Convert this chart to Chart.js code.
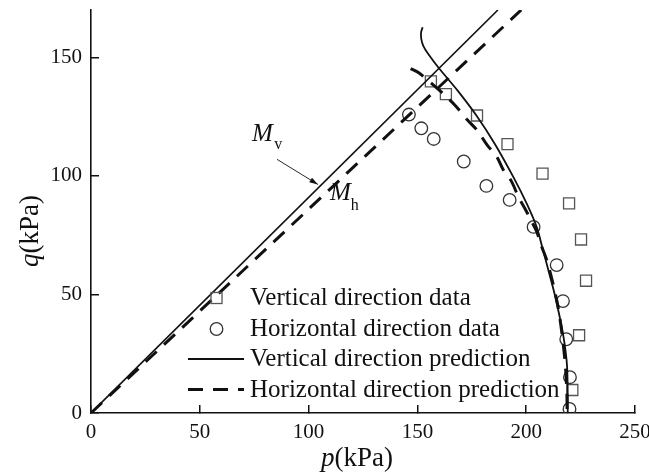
<!DOCTYPE html>
<html>
<head>
<meta charset="utf-8">
<script src="https://cdn.jsdelivr.net/npm/chart.js@4.4.1/dist/chart.umd.min.js"></script>
<style>
html, body { margin: 0; padding: 0; background: #fff; }
</style>
</head>
<body>
<canvas id="chart" width="649" height="474"></canvas>
<script>
// Stress path data, p-q plane (kPa)
var pTicks = [0, 50, 100, 150, 200, 250];
var qTicks = [0, 50, 100, 150];

var vertDataP = [156.2, 163.1, 177.4, 191.4, 207.5, 219.7, 225.2, 227.5, 224.3, 221.2];
var vertDataQ = [139.9, 134.5, 125.5, 113.4, 101.0, 88.4, 73.2, 55.8, 32.8, 9.7];

var horDataP = [146.1, 151.8, 157.5, 171.3, 181.7, 192.4, 203.4, 214.0, 216.9, 218.4, 220.1, 219.9];
var horDataQ = [125.9, 120.1, 115.6, 106.1, 95.8, 89.9, 78.5, 62.4, 47.2, 31.1, 15.1, 1.7];

// critical state lines
var mvLineP = [0, 187];
var mvLineQ = [0, 170];
var mhLineP = [0, 197.7];
var mhLineQ = [0, 170];

// yield surface predictions
var vertPredP = [152.4, 151.7, 151.8, 152.7, 155.0, 160.0, 168.5, 177.2, 185.6, 194.0, 200.2, 204.8, 207.6, 210.2, 213.0, 216.9, 218.8, 219.1];
var vertPredQ = [162.7, 160.6, 157.7, 154.9, 151.4, 145.3, 136.0, 125.4, 113.5, 99.7, 88.4, 78.5, 69.2, 60.2, 50.4, 33.5, 19.4, 0];

var horPredP = [146.9, 150.8, 156.5, 162.7, 167.6, 172.9, 177.5, 182.0, 186.4, 189.5, 193.3, 196.4, 199.4, 202.5, 204.8, 207.1, 209.4, 212.2, 214.6, 216.5, 218.0, 218.7, 218.8];
var horPredQ = [145.3, 143.4, 139.0, 134.0, 129.5, 123.7, 119.2, 113.1, 108.2, 102.5, 97.6, 91.2, 86.3, 80.8, 76.6, 70.2, 64.6, 55.0, 45.0, 33.0, 20.0, 8.0, 0];

var legendLabels = ['Vertical direction data', 'Horizontal direction data',
    'Vertical direction prediction', 'Horizontal direction prediction'];

var serif = "'Liberation Serif', 'Times New Roman', serif";

function toPoints(xs, ys) {
    return xs.map(function(x, i) { return { x: x, y: ys[i] }; });
}

/**
 * Axis titles, legend and M labels
 */
var decorPlugin = {
    id: 'decor',
    afterDraw: function(chart) {
        var ctx = chart.ctx;
        var xs = chart.scales.x;
        var ys = chart.scales.y;
        ctx.save();
        ctx.fillStyle = '#111';
        ctx.textBaseline = 'alphabetic';

        // x title: p(kPa)
        ctx.font = 'italic 27px ' + serif;
        var w1 = ctx.measureText('p').width;
        ctx.font = '27px ' + serif;
        var w2 = ctx.measureText('(kPa)').width;
        var cx = 357, by = 466;
        ctx.font = 'italic 27px ' + serif;
        ctx.fillText('p', cx - (w1 + w2) / 2, by);
        ctx.font = '27px ' + serif;
        ctx.fillText('(kPa)', cx - (w1 + w2) / 2 + w1, by);

        // y title: q(kPa)
        ctx.save();
        ctx.translate(38, 231);
        ctx.rotate(-Math.PI / 2);
        ctx.font = 'italic 27px ' + serif;
        w1 = ctx.measureText('q').width;
        ctx.fillText('q', -(w1 + w2) / 2, 0);
        ctx.font = '27px ' + serif;
        ctx.fillText('(kPa)', -(w1 + w2) / 2 + w1, 0);
        ctx.restore();

        // legend
        var ds = chart.data.datasets;
        var rows = [
            { set: ds[4], base: 305 },
            { set: ds[5], base: 336 },
            { set: ds[2], base: 366 },
            { set: ds[3], base: 396.5 }
        ];
        ctx.font = '25px ' + serif;
        rows.forEach(function(r, i) {
            var s = r.set;
            var my = r.base - 7;
            ctx.save();
            ctx.strokeStyle = s.borderColor;
            ctx.lineWidth = s.borderWidth;
            if (s.showLine) {
                ctx.setLineDash(s.borderDash || []);
                ctx.beginPath();
                ctx.moveTo(188, my);
                ctx.lineTo(244, my);
                ctx.stroke();
            } else if (s.pointStyle === 'rect') {
                var h = s.pointRadius * Math.SQRT1_2;
                ctx.strokeRect(216.5 - h, my - h, 2 * h, 2 * h);
            } else {
                ctx.beginPath();
                ctx.arc(216.5, my, s.pointRadius, 0, Math.PI * 2);
                ctx.stroke();
            }
            ctx.restore();
            ctx.fillText(legendLabels[i], 250, r.base);
        });

        // M_v / M_h labels and arrow
        function px(p) { return xs.getPixelForValue(p); }
        function py(q) { return ys.getPixelForValue(q); }
        ctx.font = 'italic 25px ' + serif;
        ctx.fillText('M', px(74), py(114.6));
        ctx.font = '16px ' + serif;
        ctx.fillText('v', px(84.2), py(111.2));
        ctx.font = 'italic 25px ' + serif;
        ctx.fillText('M', px(109.8), py(90.0));
        ctx.font = '16px ' + serif;
        ctx.fillText('h', px(119.4), py(85.8));

        var ax0 = px(85.5), ay0 = py(107), ax1 = px(104.3), ay1 = py(96.4);
        var ang = Math.atan2(ay1 - ay0, ax1 - ax0);
        ctx.strokeStyle = '#111';
        ctx.lineWidth = 0.9;
        ctx.beginPath();
        ctx.moveTo(ax0, ay0);
        ctx.lineTo(ax1, ay1);
        ctx.stroke();
        ctx.beginPath();
        ctx.moveTo(ax1, ay1);
        ctx.lineTo(ax1 - 9 * Math.cos(ang - 0.3), ay1 - 9 * Math.sin(ang - 0.3));
        ctx.lineTo(ax1 - 9 * Math.cos(ang + 0.3), ay1 - 9 * Math.sin(ang + 0.3));
        ctx.closePath();
        ctx.fillStyle = '#111';
        ctx.fill();
        ctx.restore();
    }
};

var ctx = document.getElementById('chart');

new Chart(ctx, {
    type: 'scatter',
    data: {
        datasets: [{
            data: toPoints(mvLineP, mvLineQ),
            showLine: true,
            borderColor: '#111',
            borderWidth: 1.6,
            pointRadius: 0
        }, {
            data: toPoints(mhLineP, mhLineQ),
            showLine: true,
            borderColor: '#111',
            borderWidth: 3,
            borderDash: [15, 10],
            pointRadius: 0
        }, {
            data: toPoints(vertPredP, vertPredQ),
            showLine: true,
            borderColor: '#111',
            borderWidth: 1.8,
            tension: 0.3,
            pointRadius: 0
        }, {
            data: toPoints(horPredP, horPredQ),
            showLine: true,
            borderColor: '#111',
            borderWidth: 3,
            borderDash: [15, 10],
            tension: 0.3,
            pointRadius: 0
        }, {
            data: toPoints(vertDataP, vertDataQ),
            pointStyle: 'rect',
            pointRadius: 7.8,
            borderColor: '#555',
            backgroundColor: 'rgba(0,0,0,0)',
            borderWidth: 1.3
        }, {
            data: toPoints(horDataP, horDataQ),
            pointStyle: 'circle',
            pointRadius: 6.3,
            borderColor: '#333',
            backgroundColor: 'rgba(0,0,0,0)',
            borderWidth: 1.3
        }]
    },
    options: {
        responsive: false,
        animation: false,
        devicePixelRatio: 1,
        layout: {
            padding: { left: 0, top: 10, right: 14, bottom: 0 }
        },
        plugins: {
            legend: { display: false },
            tooltip: { enabled: false }
        },
        scales: {
            x: {
                type: 'linear',
                min: 0,
                max: 250,
                afterBuildTicks: function(scale) {
                    scale.ticks = pTicks.map(function(v) { return { value: v }; });
                },
                afterFit: function(scale) {
                    scale.height = 61;
                    scale.paddingLeft = 0;
                    scale.paddingRight = 0;
                },
                ticks: {
                    padding: 15,
                    color: '#111',
                    font: { family: serif, size: 21 }
                },
                grid: {
                    drawOnChartArea: false,
                    drawTicks: true,
                    tickLength: -8,
                    color: '#111',
                    lineWidth: 1.5
                },
                border: { display: true, color: '#111', width: 1.6 }
            },
            y: {
                type: 'linear',
                min: 0,
                max: 170,
                afterBuildTicks: function(scale) {
                    scale.ticks = qTicks.map(function(v) { return { value: v }; });
                },
                afterFit: function(scale) {
                    scale.width = 91;
                    scale.paddingTop = 0;
                    scale.paddingBottom = 0;
                },
                ticks: {
                    padding: 17,
                    color: '#111',
                    font: { family: serif, size: 21 }
                },
                grid: {
                    drawOnChartArea: false,
                    drawTicks: true,
                    tickLength: -8,
                    color: '#111',
                    lineWidth: 1.5
                },
                border: { display: true, color: '#111', width: 1.6 }
            }
        }
    },
    plugins: [decorPlugin]
});
</script>
</body>
</html>
